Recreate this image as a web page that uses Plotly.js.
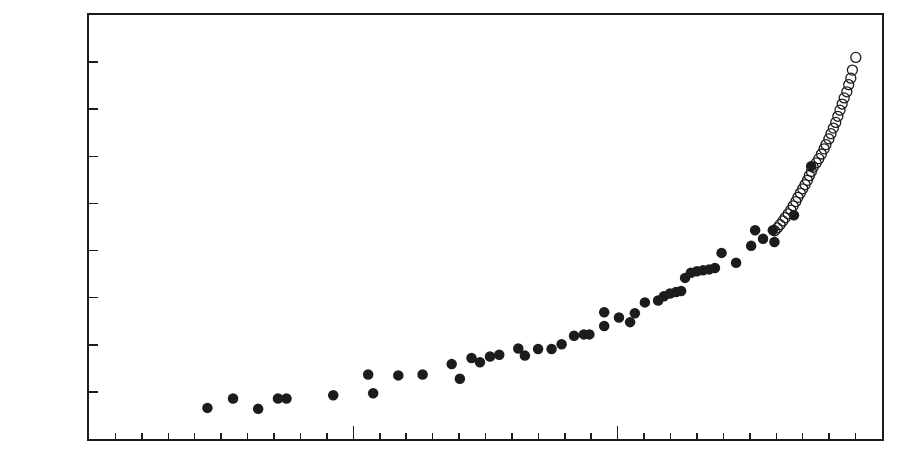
<!DOCTYPE html>
<html>
<head>
<meta charset="utf-8">
<script src="https://cdn.plot.ly/plotly-3.0.1.min.js"></script>
<style>html,body{margin:0;padding:0;background:#fff;}#chart{width:911px;height:476px;}</style>
</head>
<body>
<div id="chart"></div>
<script>
// Filled (observed) points
const filledX = [4.48, 5.45, 6.40, 7.15, 7.47, 9.24, 10.56, 10.75, 11.70, 12.62,
  13.72, 14.03, 14.47, 14.79, 15.17, 15.52, 16.24, 16.49, 16.99, 17.50,
  17.88, 18.35, 18.72, 18.93, 19.49, 19.49, 20.05, 20.47, 20.65, 21.03,
  21.53, 21.75, 21.98, 22.21, 22.40, 22.55, 22.77, 23.00, 23.23, 23.46,
  23.68, 23.93, 24.48, 25.05, 25.20, 25.50, 25.93, 25.87, 26.67, 27.32];
const filledY = [0.66, 0.86, 0.64, 0.86, 0.86, 0.93, 1.37, 0.97, 1.35, 1.37,
  1.59, 1.28, 1.72, 1.63, 1.75, 1.79, 1.92, 1.77, 1.91, 1.91,
  2.01, 2.19, 2.22, 2.22, 2.69, 2.40, 2.58, 2.48, 2.67, 2.90,
  2.94, 3.03, 3.09, 3.12, 3.14, 3.42, 3.53, 3.56, 3.58, 3.60,
  3.63, 3.95, 3.74, 4.10, 4.43, 4.25, 4.18, 4.43, 4.75, 5.79];

// Open (projected) points
const openX = [25.94, 26.04, 26.14, 26.25, 26.34, 26.45, 26.55, 26.64, 26.74, 26.82,
  26.91, 27.00, 27.09, 27.18, 27.25, 27.33, 27.40, 27.51, 27.61, 27.71,
  27.81, 27.88, 27.99, 28.07, 28.16, 28.25, 28.33, 28.41, 28.49, 28.57,
  28.67, 28.74, 28.82, 28.88, 29.01];
const openY = [4.42, 4.48, 4.55, 4.63, 4.70, 4.78, 4.86, 4.95, 5.04, 5.13,
  5.22, 5.31, 5.40, 5.49, 5.59, 5.68, 5.77, 5.86, 5.95, 6.05,
  6.16, 6.25, 6.37, 6.48, 6.60, 6.72, 6.85, 6.98, 7.11, 7.24,
  7.37, 7.52, 7.66, 7.83, 8.10];

const traces = [
  {x: openX, y: openY, type: 'scatter', mode: 'markers', hoverinfo: 'skip',
   marker: {symbol: 'circle-open', size: 10, color: '#1c1c1c', line: {width: 1.3, color: '#1c1c1c'}}},
  {x: filledX, y: filledY, type: 'scatter', mode: 'markers', hoverinfo: 'skip',
   marker: {symbol: 'circle', size: 10.5, color: '#1c1c1c', line: {width: 0}}}
];

const layout = {
  width: 911, height: 476,
  margin: {l: 89, r: 29, t: 15, b: 37, pad: 0},
  paper_bgcolor: '#ffffff', plot_bgcolor: '#ffffff',
  showlegend: false,
  xaxis: {
    range: [0, 30], showgrid: false, zeroline: false,
    showline: true, mirror: true, linecolor: '#1c1c1c', linewidth: 2,
    ticks: 'inside', dtick: 10, tick0: 0, ticklen: 13, tickwidth: 1.5, tickcolor: '#1c1c1c',
    minor: {ticks: 'inside', dtick: 1, ticklen: 6, tickwidth: 1.5, tickcolor: '#1c1c1c', showgrid: false},
    showticklabels: false, fixedrange: true
  },
  yaxis: {
    range: [0, 9], showgrid: false, zeroline: false,
    showline: true, mirror: true, linecolor: '#1c1c1c', linewidth: 2,
    ticks: 'inside', dtick: 1, tick0: 0, ticklen: 9, tickwidth: 1.5, tickcolor: '#1c1c1c',
    showticklabels: false, fixedrange: true
  }
};

Plotly.newPlot('chart', traces, layout, {displayModeBar: false, staticPlot: true});
</script>
</body>
</html>
